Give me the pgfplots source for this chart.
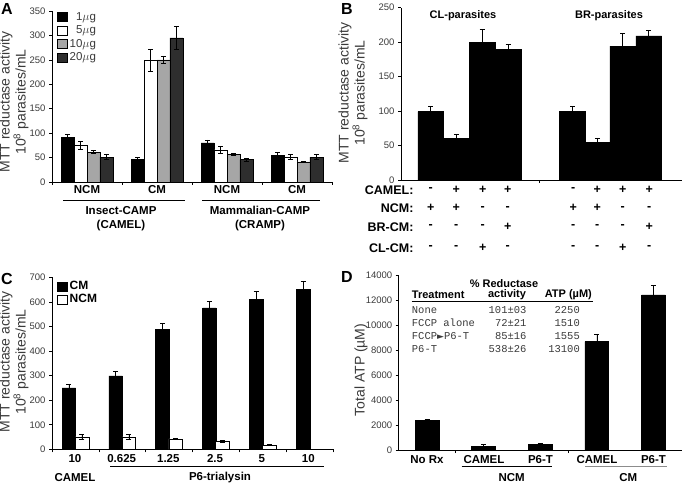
\documentclass[border=0pt]{standalone}
\usepackage{fontspec}
\setmainfont{Liberation Sans}
\newfontfamily\monofont{Liberation Mono}
\newfontfamily\symfont{DejaVu Sans}
\usepackage{pgfplots}
\pgfplotsset{compat=1.18}
\definecolor{txt}{HTML}{3A3A3A}
\definecolor{gry}{HTML}{A6A6A6}
\definecolor{dgry}{HTML}{2E2E2E}
\definecolor{lgrey}{HTML}{8C8C8C}

\pgfplotsset{
  panel/.style={scale only axis, anchor=south west, clip=false,
    axis x line*=bottom, axis y line*=left,
    axis line style={black, line width=0.6pt},
    tick style={black, line width=0.6pt},
    tick align=outside, major tick length=3pt,
    ymin=0, xticklabels={},
    yticklabel style={font=\fontsize{9.5}{9.5}\selectfont, text=txt},
    /pgf/number format/1000 sep={},
    /pgf/number format/assume math mode=true,
    scaled y ticks=false},
  abar/.style={ybar, bar shift=0pt, draw=black, line width=0.5pt,
    legend image code/.code={\draw[##1, line width=0.5pt] (0pt,-4.5pt) rectangle (10pt,4.5pt);},
    /pgfplots/error bars/y dir=both, /pgfplots/error bars/y explicit,
    /pgfplots/error bars/error bar style={black, line width=0.6pt, solid},
    /pgfplots/error bars/error mark options={rotate=90, mark size=2.5pt, black, line width=0.6pt}},
  up/.style={/pgfplots/error bars/y dir=plus},
}
\tikzset{
  cat/.style={font=\bfseries\fontsize{11.5}{12}\selectfont},
  sym/.style={font=\bfseries\fontsize{12.5}{12}\selectfont},
  ylab/.style={rotate=90, align=center, text=txt, font=\fontsize{14}{13.5}\selectfont},
  letter/.style={font=\bfseries\fontsize{16}{16}\selectfont},
  mono/.style={font=\monofont\fontsize{10.5}{11}\selectfont, text=txt},
}

\begin{document}
\begin{tikzpicture}
\path[use as bounding box] (0pt,0pt) rectangle (683pt,-484pt);

% ---------------- A ----------------
\begin{axis}[panel, at={(52pt,-182pt)}, width=280pt, height=171pt,
  xmin=0, xmax=4, ymax=350, ytick={0,50,...,350}, xtick={0,1,2,3,4},
  legend cell align=right,
  legend style={at={(0,1)}, anchor=north west, xshift=4pt, yshift=2pt,
    draw=none, fill=none, inner sep=1pt, row sep=0pt,
    font=\fontsize{11.5}{11.5}\selectfont\color{txt}}]
\addplot[abar, bar width=0.184, fill=black] coordinates {
  (0.224,91) +- (0,6) (1.224,46) +- (0,4) (2.224,80) +- (0,6) (3.224,55) +- (0,5)};
\addplot[abar, bar width=0.184, fill=white] coordinates {
  (0.408,75) +- (0,8) (1.408,249) +- (0,22) (2.408,66) +- (0,7) (3.408,51) +- (0,5)};
\addplot[abar, bar width=0.184, fill=gry] coordinates {
  (0.592,61) +- (0,3) (1.592,250) +- (0,8) (2.592,56) +- (0,2) (3.592,41) +- (0,1)};
\addplot[abar, bar width=0.184, fill=dgry] coordinates {
  (0.776,51) +- (0,5) (1.776,295) +- (0,24) (2.776,46) +- (0,3) (3.776,51) +- (0,5)};
\legend{1$\mu$g, 5$\mu$g, 10$\mu$g, 20$\mu$g}
\end{axis}

% ---------------- B ----------------
\begin{axis}[panel, at={(401pt,-180pt)}, width=281pt, height=172.5pt,
  xmin=0, xmax=281, ymax=250, ytick={0,50,...,250}, xtick={138.5}]
\addplot[abar, up, bar width=25.8, fill=black] coordinates {
  (29.7,99) +- (0,8) (55.3,60) +- (0,6) (81,200) +- (0,18) (107,189) +- (0,7)
  (171.5,99) +- (0,8) (196.3,55) +- (0,6) (221.7,194) +- (0,19) (247.7,209) +- (0,8)};
\end{axis}

% ---------------- C ----------------
\begin{axis}[panel, at={(52pt,-449.3pt)}, width=281pt, height=172pt,
  xmin=0, xmax=6, ymax=700, ytick={0,100,...,700}, xtick={0,...,6},
  legend cell align=left,
  legend style={at={(0,1)}, anchor=north west, xshift=4pt, yshift=-1pt,
    draw=none, fill=none, inner sep=1pt, row sep=-1pt,
    font=\bfseries\fontsize{12}{12}\selectfont}]
\addplot[abar, up, bar width=0.29, fill=black] coordinates {
  (0.36,250) +- (0,14) (1.36,299) +- (0,18) (2.36,488) +- (0,24)
  (3.36,576) +- (0,27) (4.36,610) +- (0,31) (5.36,650) +- (0,32)};
\addplot[abar, bar width=0.29, fill=white] coordinates {
  (0.64,51) +- (0,10) (1.64,51) +- (0,9) (2.64,42) +- (0,3)
  (3.64,32) +- (0,3) (4.64,17) +- (0,2)};
\legend{CM, NCM}
\end{axis}

% ---------------- D ----------------
\begin{axis}[panel, at={(398.7pt,-450pt)}, width=283pt, height=175pt,
  xmin=0, xmax=5, ymax=14000, ytick={0,2000,...,14000}, xtick={1,3}]
\addplot[abar, up, bar width=0.42, fill=black] coordinates {
  (0.5,2380) +- (0,90) (1.5,280) +- (0,170) (2.5,430) +- (0,100)
  (3.5,8680) +- (0,540) (4.5,12420) +- (0,720)};
\end{axis}

% ---------------- panel letters ----------------
\node[letter] at (7pt,-9pt) {A};
\node[letter] at (347pt,-9pt) {B};
\node[letter] at (7pt,-279pt) {C};
\node[letter] at (347pt,-277pt) {D};

% ---------------- y labels ----------------
\node[ylab] at (14pt,-102pt) {MTT reductase activity\\10\textsuperscript{8} parasites/mL};
\node[ylab] at (353pt,-93pt) {MTT reductase activity\\10\textsuperscript{8} parasites/mL};
\node[ylab] at (14pt,-362pt) {MTT reductase activity\\10\textsuperscript{8} parasites/mL};
\node[ylab] at (361pt,-370pt) {Total ATP (µM)};

% ---------------- A categories ----------------
\foreach \x/\t in {87/NCM, 157/CM, 227/NCM, 297/CM}
  \node[cat] at (\x pt,-190pt) {\t};
\draw[line width=0.6pt] (63pt,-200pt) -- (185pt,-200pt);
\draw[line width=0.6pt] (202pt,-200pt) -- (320pt,-200pt);
\node[cat] at (121pt,-210.5pt) {Insect-CAMP};
\node[cat] at (121pt,-225.5pt) {(CAMEL)};
\node[cat] at (260pt,-210.5pt) {Mammalian-CAMP};
\node[cat] at (260pt,-225.5pt) {(CRAMP)};

% ---------------- B titles and table ----------------
\node[font=\bfseries\fontsize{11}{11}\selectfont] at (463pt,-15.7pt) {CL-parasites};
\node[font=\bfseries\fontsize{11}{11}\selectfont] at (609pt,-15.7pt) {BR-parasites};
\foreach \y/\t in {190/CAMEL:, 208.3/NCM:, 226.7/BR-CM:, 247.7/CL-CM:}
  \node[sym, anchor=east] at (417pt,-\y pt) {\t};
\foreach \x/\a/\b/\c/\d in {430.7/-/+/-/-, 456.3/+/+/-/-, 482.7/+/-/-/+, 507.7/+/-/+/-,
                            573.3/-/+/-/-, 597.3/+/+/-/-, 622.7/+/-/-/+, 649.3/+/-/+/-} {
  \node[sym] at (\x pt,-190pt) {\a};
  \node[sym] at (\x pt,-208.3pt) {\b};
  \node[sym] at (\x pt,-226.7pt) {\c};
  \node[sym] at (\x pt,-247.7pt) {\d};
}

% ---------------- C categories ----------------
\foreach \x/\t in {75/10, 121.7/0.625, 168.3/1.25, 215/2.5, 261.7/5, 308.3/10}
  \node[cat] at (\x pt,-459pt) {\t};
\draw[line width=0.6pt] (110pt,-466.7pt) -- (324pt,-466.7pt);
\node[cat] at (75pt,-478pt) {CAMEL};
\node[cat] at (220pt,-478pt) {P6-trialysin};

% ---------------- D categories ----------------
\foreach \x/\t in {427/No Rx, 484/CAMEL, 540.5/P6-T, 597/CAMEL, 653.5/P6-T}
  \node[cat] at (\x pt,-459.5pt) {\t};
\draw[line width=0.6pt] (461.7pt,-466.7pt) -- (551.7pt,-466.7pt);
\draw[line width=0.8pt, lgrey] (585pt,-466.7pt) -- (666.7pt,-466.7pt);
\node[cat] at (511.7pt,-477.5pt) {NCM};
\node[cat] at (628.3pt,-477.5pt) {CM};

% ---------------- D inset table ----------------
\node[font=\bfseries\fontsize{11}{11}\selectfont] at (504pt,-283.3pt) {\% Reductase};
\node[font=\bfseries\fontsize{11}{11}\selectfont, anchor=west, inner sep=0pt] at (411.7pt,-295pt) {Treatment};
\node[font=\bfseries\fontsize{11}{11}\selectfont] at (507pt,-295pt) {activity};
\node[font=\bfseries\fontsize{11}{11}\selectfont] at (568.3pt,-295pt) {ATP (µM)};
\draw[line width=0.7pt] (411.7pt,-301.7pt) -- (593.3pt,-301.7pt);
\foreach \y/\a/\b/\c in {310/None/101±03/2250, 322.7/FCCP alone/72±21/1510,
                         336/FCCP{\symfont\fontsize{9}{9}\selectfont ►}P6-T/85±16/1555,
                         349.3/P6-T/538±26/13100} {
  \node[mono, anchor=west, inner sep=0pt] at (411.7pt,-\y pt) {\a};
  \node[mono, anchor=east, inner sep=0pt] at (526.7pt,-\y pt) {\b};
  \node[mono, anchor=east, inner sep=0pt] at (580pt,-\y pt) {\c};
}
\end{tikzpicture}
\end{document}
